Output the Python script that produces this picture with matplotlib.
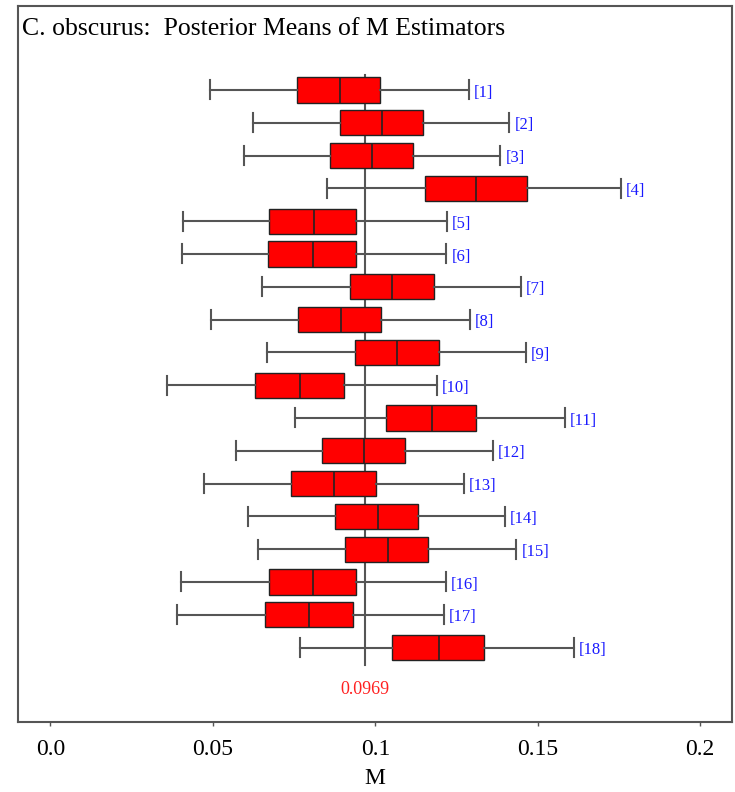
import matplotlib
matplotlib.use("Agg")
import matplotlib.pyplot as plt

# Data
labels = [f"[{i}]" for i in range(1, 19)]
whis_lo = [0.0491, 0.0622, 0.0597, 0.0851, 0.0407, 0.0404, 0.0650, 0.0494, 0.0665,
           0.0358, 0.0753, 0.0570, 0.0473, 0.0607, 0.0640, 0.0401, 0.0388, 0.0768]
q1 = [0.0759, 0.0892, 0.0860, 0.1154, 0.0673, 0.0670, 0.0921, 0.0762, 0.0936,
      0.0629, 0.1033, 0.0837, 0.0741, 0.0876, 0.0906, 0.0672, 0.0659, 0.1052]
median = [0.0890, 0.1021, 0.0991, 0.1311, 0.0812, 0.0808, 0.1052, 0.0893, 0.1067,
          0.0769, 0.1173, 0.0965, 0.0873, 0.1007, 0.1039, 0.0808, 0.0797, 0.1195]
q3 = [0.1014, 0.1146, 0.1116, 0.1466, 0.0942, 0.0939, 0.1180, 0.1017, 0.1195,
      0.0903, 0.1309, 0.1090, 0.1001, 0.1131, 0.1163, 0.0939, 0.0930, 0.1334]
whis_hi = [0.1288, 0.1413, 0.1384, 0.1756, 0.1220, 0.1218, 0.1448, 0.1291, 0.1463,
           0.1190, 0.1583, 0.1361, 0.1273, 0.1399, 0.1434, 0.1217, 0.1210, 0.1611]
ref_value = 0.0969
xticks = [0.0, 0.05, 0.1, 0.15, 0.2]
xtick_labels = ["0.0", "0.05", "0.1", "0.15", "0.2"]

plt.rcParams['font.family'] = ['Liberation Serif', 'DejaVu Serif']

fig = plt.figure(figsize=(7.35, 7.92), dpi=100)
ax = fig.add_axes([18/735, 1 - 722/792, (732-18)/735, (722-6)/792])

n = len(labels)
positions = list(range(1, n + 1))

# reference line
ax.plot([ref_value, ref_value], [0.54, n + 0.53], color="#555555", lw=1.5, zorder=1)

stats = []
for i in range(n):
    stats.append(dict(whislo=whis_lo[i], q1=q1[i], med=median[i], q3=q3[i],
                      whishi=whis_hi[i], fliers=[]))

ax.bxp(stats, positions=positions, orientation='horizontal', widths=0.77,
       capwidths=0.58, showfliers=False, patch_artist=True,
       boxprops=dict(facecolor="#ff0000", edgecolor="#222222", linewidth=1.0),
       medianprops=dict(color="#222222", linewidth=1.2),
       whiskerprops=dict(color="#555555", linewidth=1.5),
       capprops=dict(color="#555555", linewidth=1.5),
       zorder=2)

for i in range(n):
    ax.text(whis_hi[i] + 0.0016, positions[i] + 0.08, labels[i], color="#1a1aff",
            fontsize=12, va="center", ha="left")

ax.text(ref_value, 19.29, f"{ref_value:.4f}", color="#ff2020", fontsize=13,
        ha="center", va="center")

ax.set_xlim(-0.0100, 0.2098)
ax.set_ylim(20.27, -1.56)
ax.set_yticks([])
ax.set_xticks(xticks)
ax.set_xticklabels(xtick_labels, fontsize=17)
ax.tick_params(axis='x', direction='out', length=3, width=1, color="#555555", pad=9)
ax.set_xlabel("M", fontsize=17, labelpad=6)
for s in ax.spines.values():
    s.set_color("#555555")
    s.set_linewidth(1.5)

fig.text(22/735, 1 - 35/792, "C. obscurus:  Posterior Means of M Estimators",
         fontsize=18.5, ha="left", va="baseline")

fig.savefig("out.png", dpi=100)
